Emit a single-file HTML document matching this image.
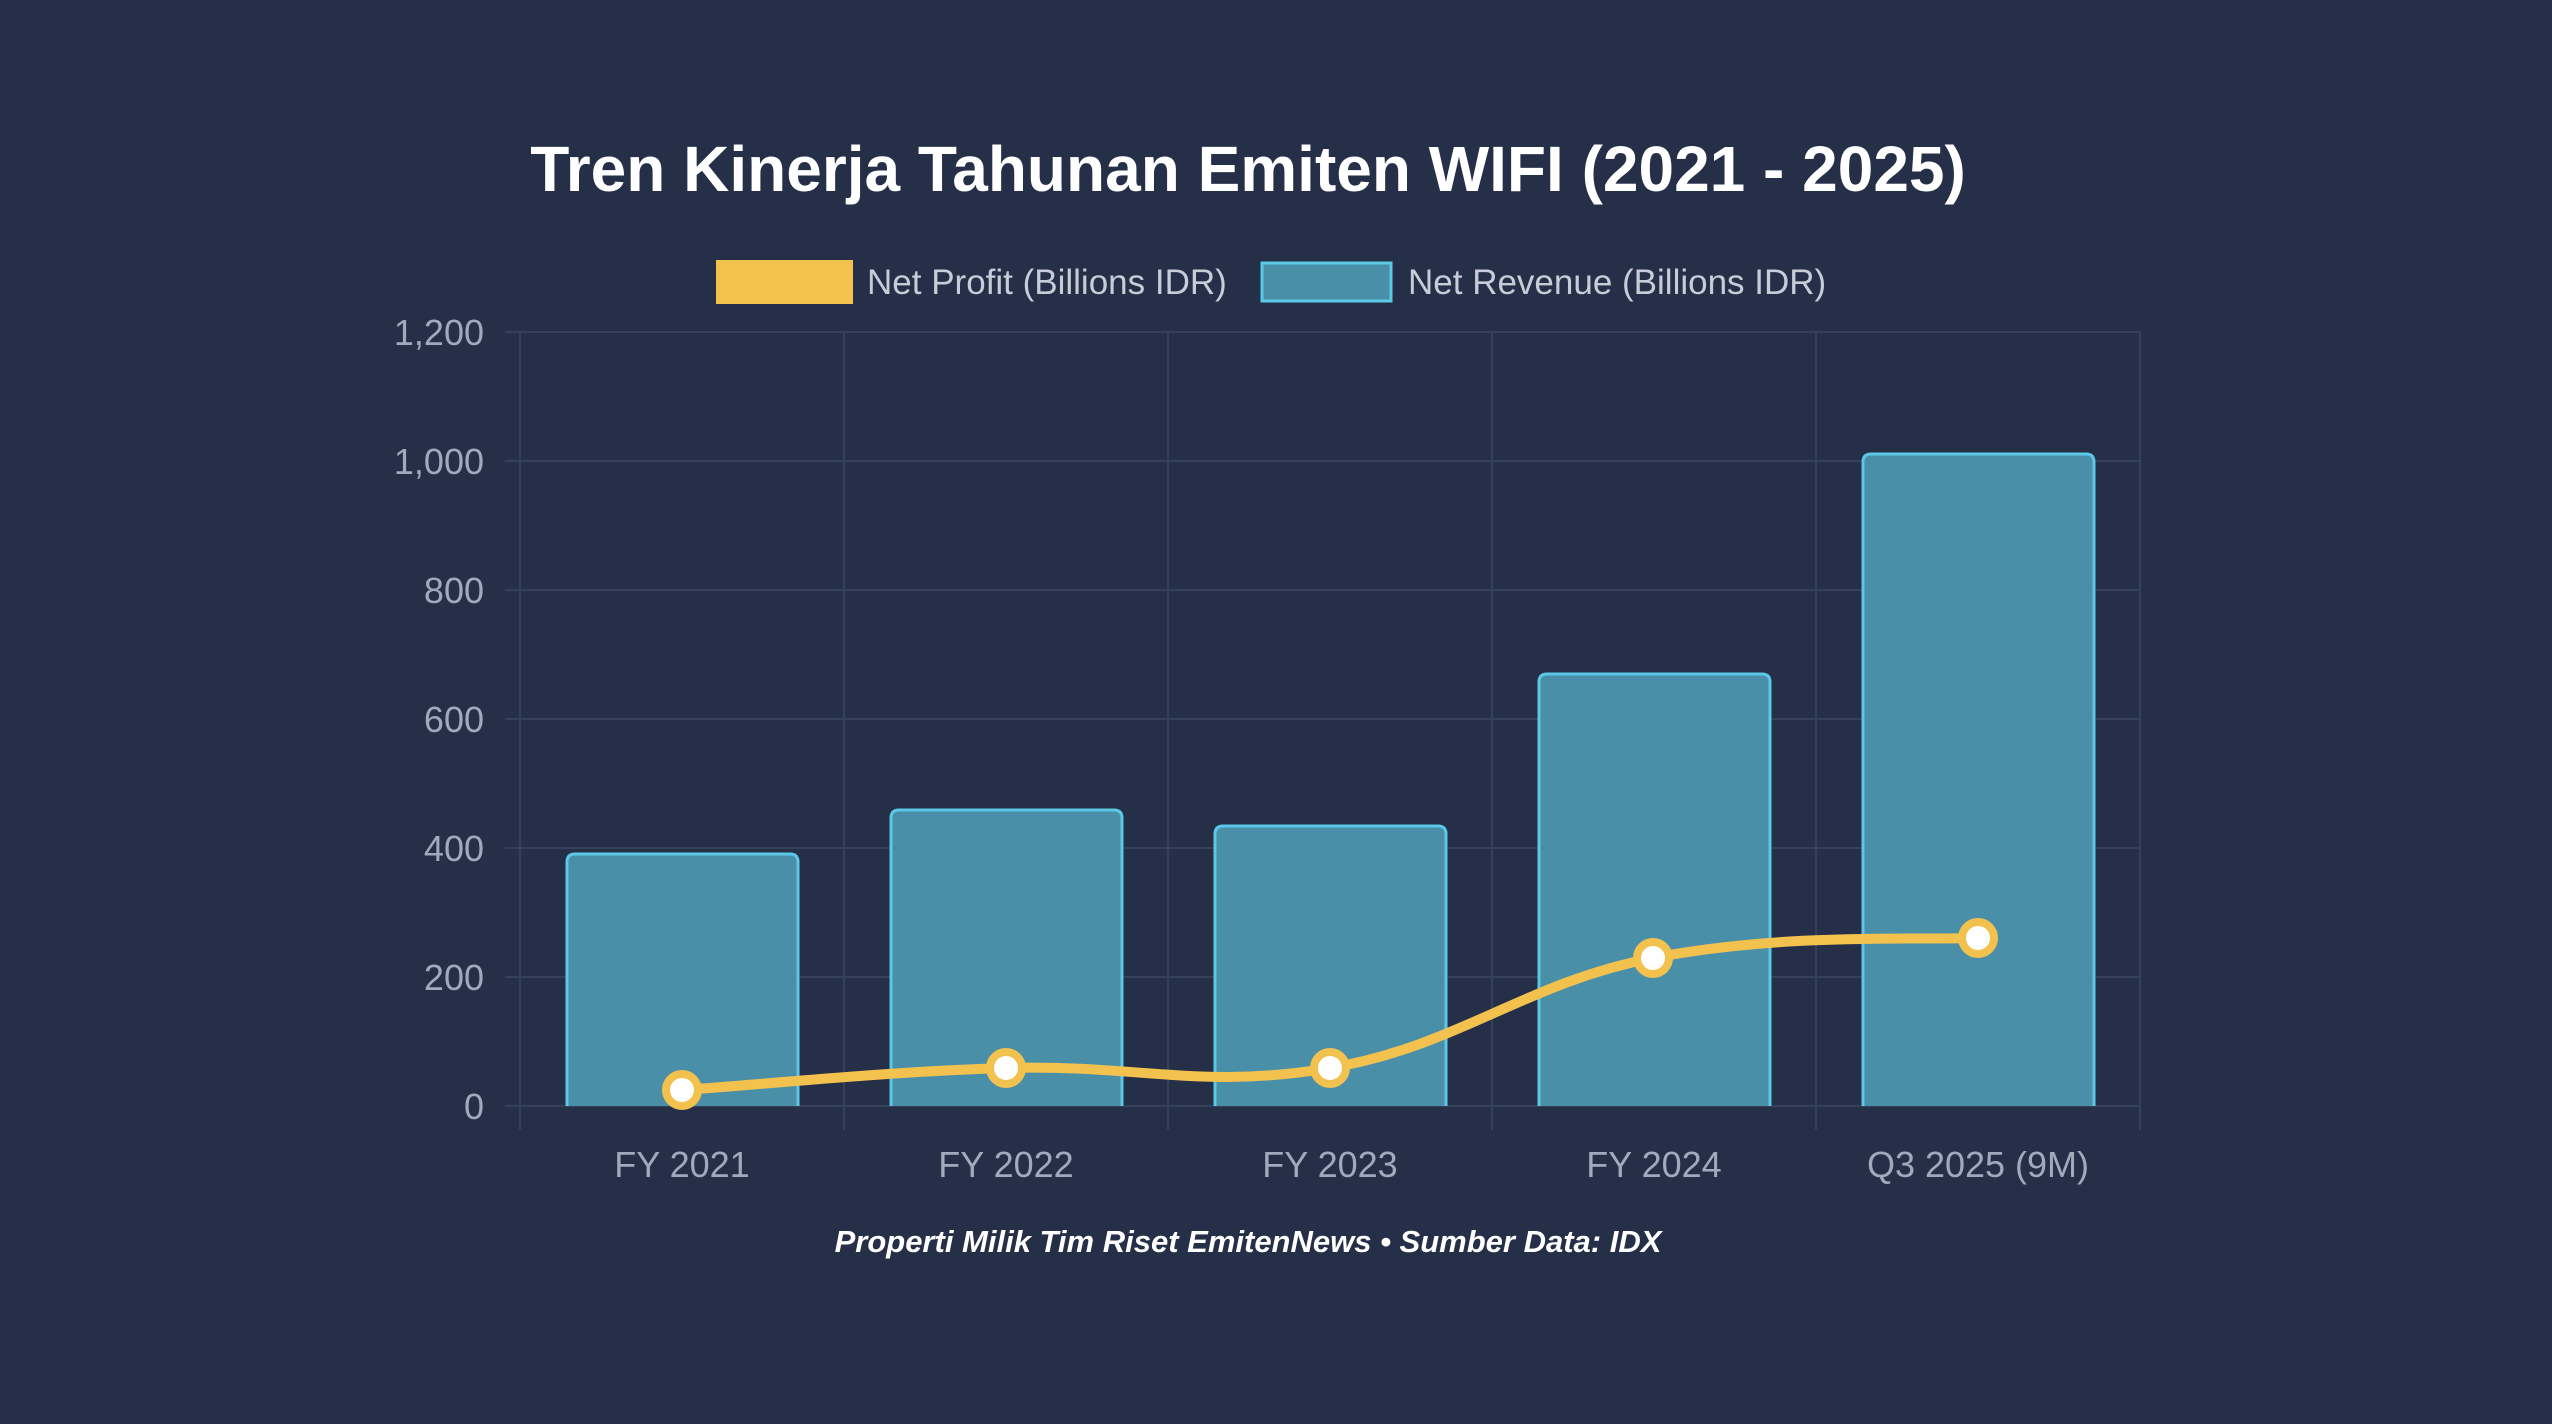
<!DOCTYPE html>
<html><head><meta charset="utf-8"><style>
html,body{margin:0;padding:0;background:#252f48;}
svg{display:block;}
</style></head><body>
<svg width="2552" height="1424" viewBox="0 0 2552 1424" xmlns="http://www.w3.org/2000/svg">
<rect width="2552" height="1424" fill="#252f48"/>
<text x="1248" y="191" text-anchor="middle" font-family="Liberation Sans, sans-serif" font-weight="bold" font-size="64" fill="#ffffff">Tren Kinerja Tahunan Emiten WIFI (2021 - 2025)</text>
<!-- legend -->
<rect x="716" y="260" width="137" height="44" fill="#f2c14e"/>
<text x="867" y="294" font-family="Liberation Sans, sans-serif" font-size="35" fill="#c6ccd8">Net Profit (Billions IDR)</text>
<rect x="1262" y="263" width="129" height="38" fill="#4a8fa8" stroke="#5bc8e6" stroke-width="3"/>
<text x="1408" y="294" font-family="Liberation Sans, sans-serif" font-size="35" fill="#c6ccd8">Net Revenue (Billions IDR)</text>
<!-- grid -->
<g stroke="#354059" stroke-width="2">
<line x1="505" y1="332" x2="2140" y2="332"/>
<line x1="505" y1="461" x2="2140" y2="461"/>
<line x1="505" y1="590" x2="2140" y2="590"/>
<line x1="505" y1="719" x2="2140" y2="719"/>
<line x1="505" y1="848" x2="2140" y2="848"/>
<line x1="505" y1="977" x2="2140" y2="977"/>
<line x1="505" y1="1106" x2="2140" y2="1106"/>
<line x1="520" y1="332" x2="520" y2="1130"/>
<line x1="844" y1="332" x2="844" y2="1130"/>
<line x1="1168" y1="332" x2="1168" y2="1130"/>
<line x1="1492" y1="332" x2="1492" y2="1130"/>
<line x1="1816" y1="332" x2="1816" y2="1130"/>
<line x1="2140" y1="332" x2="2140" y2="1130"/>
</g>
<g font-family="Liberation Sans, sans-serif" font-size="36" fill="#a0aabb" text-anchor="end">
<text x="484" y="345">1,200</text>
<text x="484" y="474">1,000</text>
<text x="484" y="603">800</text>
<text x="484" y="732">600</text>
<text x="484" y="861">400</text>
<text x="484" y="990">200</text>
<text x="484" y="1119">0</text>
</g>
<g font-family="Liberation Sans, sans-serif" font-size="36" fill="#a0aabb" text-anchor="middle">
<text x="682" y="1177">FY 2021</text>
<text x="1006" y="1177">FY 2022</text>
<text x="1330" y="1177">FY 2023</text>
<text x="1654" y="1177">FY 2024</text>
<text x="1978" y="1177">Q3 2025 (9M)</text>
</g>
<!-- bars -->
<g fill="#4a8fa8" stroke="#5bc8e6" stroke-width="3">
<path d="M567,1106 V862 q0,-8 8,-8 H790 q8,0 8,8 V1106"/>
<path d="M891,1106 V818 q0,-8 8,-8 H1114 q8,0 8,8 V1106"/>
<path d="M1215,1106 V834 q0,-8 8,-8 H1438 q8,0 8,8 V1106"/>
<path d="M1539,1106 V682 q0,-8 8,-8 H1762 q8,0 8,8 V1106"/>
<path d="M1863,1106 V462 q0,-8 8,-8 H2086 q8,0 8,8 V1106"/>
</g>
<!-- line -->
<path d="M682,1090 C747,1086 876,1072 1006,1068 C1136,1064 1201,1090 1330,1068 C1459,1046 1524,983 1653,958 C1782,933 1913,940 1978,938" fill="none" stroke="#f2c14e" stroke-width="10" stroke-linecap="round"/>
<g fill="#ffffff" stroke="#f2c14e" stroke-width="8">
<circle cx="682" cy="1090" r="16"/>
<circle cx="1006" cy="1068" r="16"/>
<circle cx="1330" cy="1068" r="16"/>
<circle cx="1653" cy="958" r="16"/>
<circle cx="1978" cy="938" r="16"/>
</g>
<text x="1248" y="1252" text-anchor="middle" font-family="Liberation Sans, sans-serif" font-weight="bold" font-style="italic" font-size="31" fill="#ffffff">Properti Milik Tim Riset EmitenNews • Sumber Data: IDX</text>
</svg>
</body></html>
